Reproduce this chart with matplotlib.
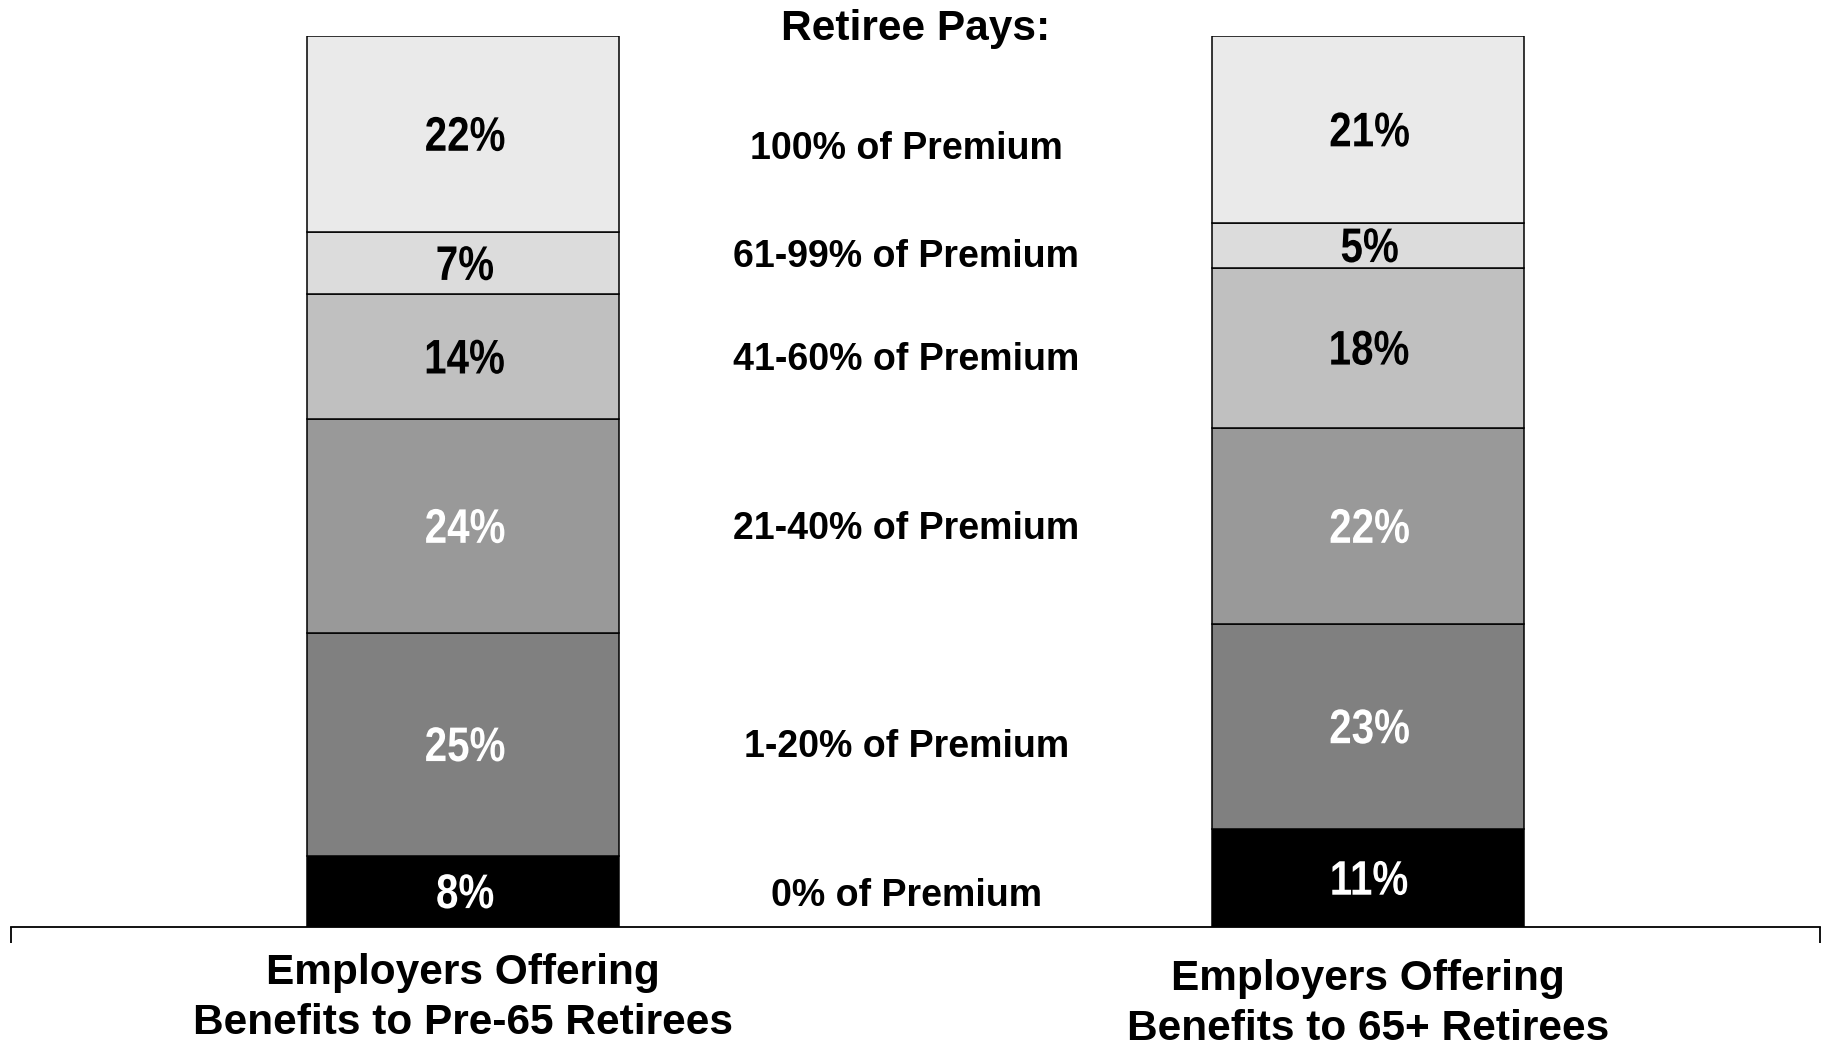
import numpy as np
import matplotlib.pyplot as plt
from matplotlib.textpath import TextPath
from matplotlib.patches import PathPatch
from matplotlib.font_manager import FontProperties
import matplotlib.transforms as mtransforms

# Data (bottom to top)
levels = ['0% of Premium', '1-20% of Premium', '21-40% of Premium',
          '41-60% of Premium', '61-99% of Premium', '100% of Premium']
groups = ['Employers Offering\nBenefits to Pre-65 Retirees',
          'Employers Offering\nBenefits to 65+ Retirees']
pre65 = [8, 25, 24, 14, 7, 22]
post65 = [11, 23, 22, 18, 5, 21]

colors = ['#000000', '#808080', '#999999', '#c0c0c0', '#dcdcdc', '#eaeaea']
txtcol = ['white', 'white', 'white', 'black', 'black', 'black']

plt.rcParams['font.family'] = ['Liberation Sans', 'DejaVu Sans']

fig = plt.figure(figsize=(18.28, 10.46), dpi=100)
ax = fig.add_axes([11/1828, 119/1046, 1809/1828, (927-36)/1046])
ax.set_xlim(-0.5, 1.5)
ax.set_ylim(0, 100)

# no narrow font installed -> squeeze the bold glyph outlines by hand
narrow_fp = FontProperties(family='Liberation Sans', weight='bold', size=35)
def narrow_text(x, y, s, color, squeeze=0.83):
    tp = TextPath((0, 0), s, prop=narrow_fp)
    bb = tp.get_extents()
    cx, cy = (bb.x0 + bb.x1)/2, (bb.y0 + bb.y1)/2
    px, py = ax.transData.transform((x, y))
    k = fig.dpi/72.0
    tr = (mtransforms.Affine2D().translate(-cx, -cy).scale(squeeze*k, k)
          .translate(px + 2, py))
    ax.add_patch(PathPatch(tp, transform=tr, facecolor=color,
                           edgecolor='none', lw=0))

# layout nudges for the middle legend labels (data units)
nudge = [-0.55, -0.35, -0.3, -0.35, 0.75, -1.7]

data = np.array([pre65, post65])
x = np.arange(len(groups))
bottom = np.zeros(len(groups))
for i in range(len(levels)):
    vals = data[:, i]
    ax.bar(x, vals, 0.345, bottom=bottom, color=colors[i],
           edgecolor='black', linewidth=1.1)
    for j in range(len(groups)):
        narrow_text(x[j], bottom[j] + vals[j]/2, '%d%%' % vals[j], txtcol[i])
    ax.text(0.49, bottom[0] + vals[0]/2 + nudge[i], levels[i],
            ha='center', va='center', fontsize=27, fontweight='bold')
    bottom += vals

ax.text(0.5, 100.8, 'Retiree Pays:', ha='center', va='center',
        fontsize=30.5, fontweight='bold', clip_on=False)

grp_y = [-8.0, -8.6]
for j in range(len(groups)):
    ax.text(x[j], grp_y[j], groups[j], ha='center', va='center',
            fontsize=30.5, fontweight='bold', linespacing=1.32)

for s in ['top', 'left', 'right']:
    ax.spines[s].set_visible(False)
ax.spines['bottom'].set_linewidth(1.3)
ax.set_yticks([])
ax.set_xticks([-0.5, 1.5])
ax.set_xticklabels([])
ax.tick_params(axis='x', direction='out', length=11.5, width=1.3)

fig.savefig('out.png', dpi=100)
